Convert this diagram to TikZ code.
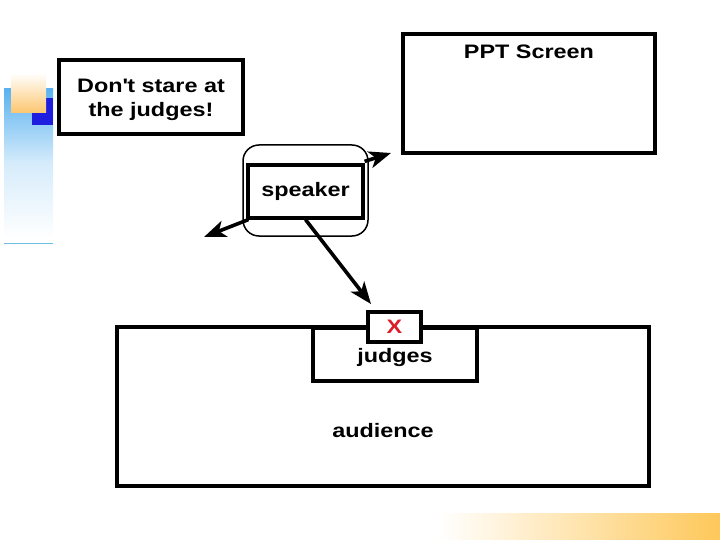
\documentclass[tikz,border=0pt]{standalone}
\usepackage{fontspec}
\setmainfont{Liberation Sans}
\newfontfamily\slidefont{Liberation Sans}[FakeStretch=1.2]
\usepackage{xcolor}
\usetikzlibrary{arrows.meta,positioning}

\definecolor{barblue}{RGB}{90,178,240}
\definecolor{deepblue}{RGB}{30,30,225}
\definecolor{softorange}{RGB}{252,198,110}
\definecolor{barorange}{RGB}{254,200,90}
\definecolor{lineblue}{RGB}{110,190,230}
\definecolor{xred}{RGB}{220,30,40}

\begin{document}
\begin{tikzpicture}[
  x=1pt, y=-1pt,
  >={Stealth[length=22pt, width=17pt, inset=6pt]},
  box/.style={draw, line width=3.2pt, fill=white, inner sep=0pt,
              font=\slidefont\bfseries\fontsize{19.5}{23.5}\selectfont, align=center},
  tag/.style={font=\slidefont\bfseries\fontsize{19.5}{23.5}\selectfont, inner sep=0pt},
  pointer/.style={line width=3.6pt, ->},
]

% === Canvas ===
\useasboundingbox (0,0) rectangle (720,540);

% === Slide decoration ===
\shade[top color=barblue, bottom color=white, middle color=barblue!25]
  (4,89) rectangle (53,238);
\draw[lineblue, line width=1pt] (4,243) -- (53,243);
\fill[deepblue] (32,98) rectangle (53,125);
\shade[top color=white, bottom color=softorange] (11,73) rectangle (46,113);
\shade[left color=white, right color=barorange] (440,513) rectangle (720,540);

% === Hint and screen ===
\node[box, minimum width=184pt, minimum height=74pt] (hint) at (151,97) {};
\node[tag, align=center] (hinttext) at (151,100)
  {Don\textquotesingle t stare at\\the judges!};
\node[box, minimum width=252pt, minimum height=119pt] (screen) at (529,93.5) {};
\node[tag, below=12pt of screen.north] (screentext) {PPT Screen};

% === Speaker ===
\node[draw, line width=1.5pt, rounded corners=16pt,
      minimum width=125pt, minimum height=91pt] (zone) at (305.5,190.5) {};
\node[box, minimum width=115pt, minimum height=53pt] (speaker) at (305.5,191.5)
  {speaker};

% === Audience and judges ===
\node[box, minimum width=532pt, minimum height=159pt] (audience) at (383,406.5) {};
\node[tag] (audiencetext) at (383,431) {audience};
\node[box, minimum width=164pt, minimum height=53pt] (judges) at (395,354.5) {};
\node[tag] (judgestext) at (395,357) {judges};
\node[box, minimum width=53pt, minimum height=30pt, text=xred] (mark) at (394.5,327)
  {X};

% === Gaze directions ===
\coordinate (toscreen) at (391,153);
\coordinate (toside) at (204,237);
\coordinate (tojudges) at (371,304);
\draw[pointer] ([yshift=2pt]speaker.north east) -- (toscreen);
\draw[pointer] ([xshift=2pt]speaker.south west) -- (toside);
\draw[pointer] (speaker.south) -- (tojudges);

\end{tikzpicture}
\end{document}
